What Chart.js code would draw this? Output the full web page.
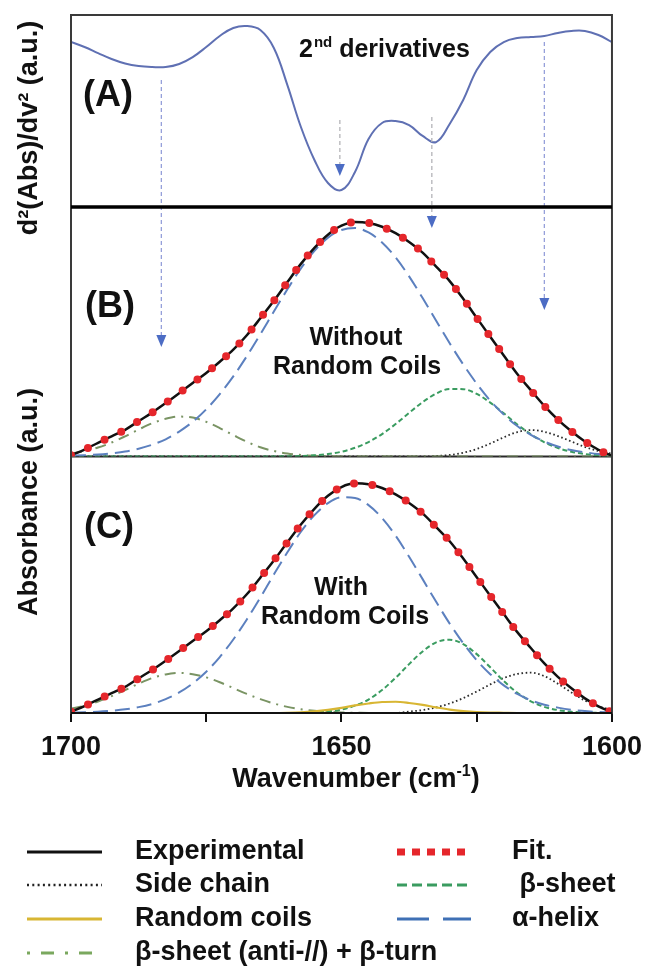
<!DOCTYPE html>
<html>
<head>
<meta charset="utf-8">
<title>Amide I deconvolution</title>
<script src="https://cdn.jsdelivr.net/npm/chart.js@4.4.1/dist/chart.umd.min.js"></script>
<style>
  html, body { margin: 0; padding: 0; background: #ffffff; }
  #wrap { position: relative; width: 651px; height: 968px; }
  canvas { display: block; }
</style>
</head>
<body>
<div id="wrap"><canvas id="ftir" width="651" height="968"></canvas></div>
<script>
// Amide I region, sampled every 2.5 cm-1 (axis runs 1700 -> 1600)
const wavenumbers = [1700, 1697.5, 1695, 1692.5, 1690, 1687.5, 1685, 1682.5, 1680, 1677.5,
  1675, 1672.5, 1670, 1667.5, 1665, 1662.5, 1660, 1657.5, 1655, 1652.5,
  1650, 1647.5, 1645, 1642.5, 1640, 1637.5, 1635, 1632.5, 1630, 1627.5,
  1625, 1622.5, 1620, 1617.5, 1615, 1612.5, 1610, 1607.5, 1605, 1602.5, 1600];

const xTickLabels = ['1700', '1650', '1600'];

// (A) second derivative of the absorbance (a.u.)
const secondDerivative = [0.031, 0.000, -0.038, -0.075, -0.103, -0.119, -0.125, -0.125, -0.106, -0.063,
  0.000, 0.069, 0.119, 0.131, 0.106, -0.006, -0.238, -0.500, -0.706, -0.850,
  -0.894, -0.781, -0.575, -0.475, -0.463, -0.488, -0.556, -0.594, -0.481, -0.331,
  -0.144, -0.031, 0.031, 0.056, 0.063, 0.069, 0.088, 0.100, 0.100, 0.075, 0.031];

// measured absorbance (a.u.), same spectrum in (B) and (C)
const experimental = [0.005, 0.028, 0.055, 0.081, 0.107, 0.142, 0.176, 0.214, 0.254, 0.295,
  0.335, 0.380, 0.428, 0.486, 0.554, 0.624, 0.699, 0.772, 0.836, 0.889,
  0.925, 0.940, 0.936, 0.921, 0.895, 0.860, 0.817, 0.761, 0.703, 0.632,
  0.556, 0.480, 0.405, 0.331, 0.266, 0.203, 0.148, 0.101, 0.060, 0.027, 0.003];

// (B) fit without a random-coil band
const fitWithoutCoils = [0.005, 0.028, 0.055, 0.081, 0.107, 0.142, 0.176, 0.214, 0.254, 0.295,
  0.335, 0.380, 0.428, 0.486, 0.554, 0.624, 0.699, 0.772, 0.836, 0.889,
  0.925, 0.940, 0.936, 0.921, 0.895, 0.860, 0.817, 0.761, 0.703, 0.632,
  0.556, 0.480, 0.405, 0.331, 0.266, 0.203, 0.148, 0.101, 0.060, 0.027, 0.003];
const helixWithoutCoils = [0.003, 0.005, 0.008, 0.013, 0.020, 0.031, 0.047, 0.069, 0.100, 0.139,
  0.189, 0.250, 0.321, 0.402, 0.490, 0.581, 0.670, 0.754, 0.824, 0.877,
  0.908, 0.916, 0.898, 0.858, 0.798, 0.722, 0.635, 0.544, 0.454, 0.369,
  0.292, 0.224, 0.168, 0.122, 0.087, 0.060, 0.040, 0.026, 0.017, 0.010, 0.006];
const antiTurnWithoutCoils = [0.012, 0.022, 0.036, 0.056, 0.081, 0.108, 0.133, 0.151, 0.160, 0.156,
  0.139, 0.114, 0.086, 0.059, 0.037, 0.022, 0.012, 0.006, 0.003, 0.001,
  0, 0, 0, 0, 0, 0, 0, 0, 0, 0,
  0, 0, 0, 0, 0, 0, 0, 0, 0, 0, 0];
const sheetWithoutCoils = [0, 0, 0, 0, 0, 0, 0, 0, 0, 0,
  0, 0, 0, 0, 0, 0, 0.001, 0.002, 0.005, 0.010,
  0.019, 0.035, 0.058, 0.090, 0.130, 0.175, 0.218, 0.252, 0.271, 0.270,
  0.251, 0.216, 0.173, 0.128, 0.089, 0.057, 0.034, 0.019, 0.010, 0.005, 0.002];
const sideChainWithoutCoils = [0, 0, 0, 0, 0, 0, 0, 0, 0, 0,
  0, 0, 0, 0, 0, 0, 0, 0, 0, 0,
  0, 0, 0, 0, 0, 0, 0, 0.002, 0.006, 0.015,
  0.030, 0.052, 0.077, 0.098, 0.106, 0.099, 0.082, 0.060, 0.038, 0.022, 0.011];

// (C) fit including a random-coil band
const fitWithCoils = [0.005, 0.028, 0.055, 0.081, 0.107, 0.142, 0.176, 0.214, 0.254, 0.295,
  0.335, 0.380, 0.428, 0.486, 0.554, 0.624, 0.699, 0.772, 0.836, 0.889,
  0.925, 0.940, 0.936, 0.921, 0.895, 0.860, 0.817, 0.761, 0.703, 0.632,
  0.556, 0.480, 0.405, 0.331, 0.266, 0.203, 0.148, 0.101, 0.060, 0.027, 0.003];
const helixWithCoils = [0.002, 0.003, 0.005, 0.009, 0.015, 0.024, 0.037, 0.057, 0.084, 0.121,
  0.169, 0.229, 0.301, 0.383, 0.473, 0.567, 0.658, 0.742, 0.810, 0.859,
  0.883, 0.880, 0.851, 0.798, 0.726, 0.640, 0.548, 0.455, 0.366, 0.286,
  0.216, 0.159, 0.113, 0.078, 0.052, 0.034, 0.022, 0.013, 0.008, 0.004, 0.002];
const antiTurnWithCoils = [0.018, 0.030, 0.047, 0.069, 0.094, 0.120, 0.143, 0.158, 0.164, 0.159,
  0.146, 0.126, 0.102, 0.078, 0.057, 0.039, 0.025, 0.015, 0.009, 0.005,
  0.002, 0.001, 0, 0, 0, 0, 0, 0, 0, 0,
  0, 0, 0, 0, 0, 0, 0, 0, 0, 0, 0];
const sheetWithCoils = [0, 0, 0, 0, 0, 0, 0, 0, 0, 0,
  0, 0, 0, 0, 0, 0, 0, 0, 0.003, 0.006,
  0.014, 0.030, 0.055, 0.094, 0.144, 0.200, 0.252, 0.289, 0.300, 0.282,
  0.241, 0.187, 0.131, 0.083, 0.048, 0.025, 0.012, 0.005, 0.002, 0.001, 0];
const sideChainWithCoils = [0, 0, 0, 0, 0, 0, 0, 0, 0, 0,
  0, 0, 0, 0, 0, 0, 0, 0, 0, 0,
  0, 0, 0, 0, 0, 0.006, 0.012, 0.023, 0.039, 0.061,
  0.088, 0.117, 0.143, 0.160, 0.165, 0.151, 0.120, 0.084, 0.051, 0.027, 0.013];
const randomCoils = [0, 0, 0, 0, 0, 0, 0, 0, 0, 0,
  0, 0, 0, 0, 0, 0, 0.001, 0.003, 0.007, 0.013,
  0.021, 0.031, 0.039, 0.045, 0.046, 0.041, 0.033, 0.023, 0.014, 0.008,
  0.004, 0.002, 0.001, 0, 0, 0, 0, 0, 0, 0, 0];

// guide arrows: from a minimum of the 2nd derivative down to the fitted band
const arrowWavenumbers = [1683.3, 1650.3, 1633.3, 1612.5];
const arrowStart = [-0.206, -0.456, -0.438, 0.031];   // on the (A) scale
const arrowEnd = [0.439, -0.806, 0.916, 0.587];
const arrowEndPanel = ['yB', 'yA', 'yB', 'yB'];

const seriesNames = {
  experimental: 'Experimental', fit: 'Fit.', side: 'Side chain', beta: '\u00A0\u03B2-sheet',
  coils: 'Random coils', helix: '\u03B1-helix', anti: '\u03B2-sheet (anti-//) + \u03B2-turn'
};

const FONT = '"Liberation Sans", Arial, Helvetica, sans-serif';
const font = (size, weight = 'bold') => `${weight} ${size}px ${FONT}`;

const styles = {
  deriv:        { borderColor: '#5f70b3', borderWidth: 2, tension: 0.4, cubicInterpolationMode: 'default' },
  experimental: { borderColor: '#111111', borderWidth: 2.5 },
  fit:          { borderColor: '#e5262b', borderWidth: 8, borderDash: [0, 18.5], borderCapStyle: 'round' },
  side:         { borderColor: '#2a2a2a', borderWidth: 1.8, borderDash: [1.6, 2.6] },
  beta:         { borderColor: '#3a9c60', borderWidth: 2, borderDash: [5, 3] },
  helix:        { borderColor: '#5c80bf', borderWidth: 2, borderDash: [15, 7] },
  anti:         { borderColor: '#7a9464', borderWidth: 2, borderDash: [11, 6, 2, 6] },
  coils:        { borderColor: '#d8b633', borderWidth: 2.2 }
};

const toPoints = vals => wavenumbers.map((w, i) => ({ x: w, y: vals[i] }));
function series(key, vals, axis, order) {
  return Object.assign({
    label: seriesNames[key] || key, data: toPoints(vals), yAxisID: axis, order,
    pointRadius: 0, pointHoverRadius: 0, fill: false, cubicInterpolationMode: 'monotone'
  }, styles[key]);
}

const datasets = [
  series('deriv', secondDerivative, 'yA', 1),
  // (B)
  series('fit', fitWithoutCoils, 'yB', 0),
  series('experimental', experimental, 'yB', 1),
  series('helix', helixWithoutCoils, 'yB', 3),
  series('anti', antiTurnWithoutCoils, 'yB', 4),
  series('beta', sheetWithoutCoils, 'yB', 3),
  series('side', sideChainWithoutCoils, 'yB', 4),
  // (C)
  series('fit', fitWithCoils, 'yC', 0),
  series('experimental', experimental, 'yC', 1),
  series('coils', randomCoils, 'yC', 2),
  series('helix', helixWithCoils, 'yC', 3),
  series('anti', antiTurnWithCoils, 'yC', 4),
  series('beta', sheetWithCoils, 'yC', 3),
  series('side', sideChainWithCoils, 'yC', 4)
];

const panelAxis = (weight, order, min, max) => ({
  type: 'linear', position: 'left', stack: 'panels', stackWeight: weight, weight: order,
  min, max, offset: false,
  ticks: { display: false }, grid: { display: false, drawTicks: false }, border: { display: false }
});

const arrowLineColors = ['#96a0da', '#b4b4b8', '#b4b4b8', '#96a0da'];

// frame, panel dividers, guide arrows and all annotation text
const decor = {
  id: 'decor',
  beforeDatasetsDraw(chart) {
    const { ctx, chartArea: a, scales } = chart;
    ctx.save();
    ctx.strokeStyle = '#2a2a2a';
    ctx.lineWidth = 2;
    ctx.beginPath();
    ctx.moveTo(a.left, scales.yB.bottom);
    ctx.lineTo(a.right, scales.yB.bottom);
    ctx.stroke();
    ctx.restore();
  },
  afterDatasetsDraw(chart) {
    const { ctx, chartArea: a, scales } = chart;
    ctx.save();
    // guide arrows
    arrowWavenumbers.forEach((w, i) => {
      const x = scales.x.getPixelForValue(w);
      const y0 = scales.yA.getPixelForValue(arrowStart[i]);
      const y1 = scales[arrowEndPanel[i]].getPixelForValue(arrowEnd[i]);
      ctx.setLineDash([4, 3]);
      ctx.strokeStyle = arrowLineColors[i];
      ctx.lineWidth = 1.3;
      ctx.beginPath();
      ctx.moveTo(x, y0);
      ctx.lineTo(x, y1 - 10);
      ctx.stroke();
      ctx.setLineDash([]);
      ctx.fillStyle = '#4c6cc4';
      ctx.beginPath();
      ctx.moveTo(x - 5, y1 - 12);
      ctx.lineTo(x + 5, y1 - 12);
      ctx.lineTo(x, y1);
      ctx.closePath();
      ctx.fill();
    });
    // outer frame
    ctx.strokeStyle = '#3a3a3a';
    ctx.lineWidth = 2;
    ctx.strokeRect(a.left, a.top, a.right - a.left, a.bottom - a.top);
    ctx.strokeStyle = '#111111';
    ctx.beginPath();
    ctx.moveTo(a.left, a.bottom);
    ctx.lineTo(a.right, a.bottom);
    ctx.stroke();
    // thick divider under (A)
    ctx.lineWidth = 3.5;
    ctx.strokeStyle = '#000000';
    ctx.beginPath();
    ctx.moveTo(a.left, scales.yA.bottom);
    ctx.lineTo(a.right, scales.yA.bottom);
    ctx.stroke();

    // panel labels and notes
    ctx.fillStyle = '#111111';
    ctx.textBaseline = 'middle';
    ctx.textAlign = 'center';
    ctx.font = font(36);
    ctx.fillText('(A)', 108, 96);
    ctx.fillText('(B)', 110, 307);
    ctx.fillText('(C)', 109, 528);

    ctx.font = font(25);
    ctx.fillText('Without', 356, 338);
    ctx.fillText('Random Coils', 357, 367);
    ctx.fillText('With', 341, 588);
    ctx.fillText('Random Coils', 345, 617);

    // "2nd derivatives"
    ctx.textAlign = 'left';
    ctx.textBaseline = 'alphabetic';
    let x = 299;
    const base = 57;
    ctx.font = font(25);
    ctx.fillText('2', x, base);
    x += ctx.measureText('2').width + 1;
    ctx.font = font(15);
    ctx.fillText('nd', x, base - 10);
    x += ctx.measureText('nd').width;
    ctx.font = font(25);
    ctx.fillText(' derivatives', x, base);
    ctx.restore();
  },
  afterDraw(chart) {
    const { ctx } = chart;
    ctx.save();
    ctx.fillStyle = '#111111';

    // y-axis titles
    const vText = (txt, cx, cy) => {
      ctx.save();
      ctx.translate(cx, cy);
      ctx.rotate(-Math.PI / 2);
      ctx.textAlign = 'center';
      ctx.textBaseline = 'middle';
      ctx.font = font(27);
      ctx.fillText(txt, 0, 0);
      ctx.restore();
    };
    vText('d\u00B2(Abs)/dv\u00B2 (a.u.)', 30, 128);
    vText('Absorbance (a.u.)', 30, 502);

    // x-axis title with superscript
    ctx.textBaseline = 'alphabetic';
    ctx.textAlign = 'left';
    const main = 'Wavenumber (cm', sup = '-1', close = ')';
    ctx.font = font(27);
    const wMain = ctx.measureText(main).width, wClose = ctx.measureText(close).width;
    ctx.font = font(16);
    const wSup = ctx.measureText(sup).width;
    let tx = 356 - (wMain + wSup + wClose) / 2;
    const tb = 787;
    ctx.font = font(27);
    ctx.fillText(main, tx, tb);
    tx += wMain;
    ctx.font = font(16);
    ctx.fillText(sup, tx, tb - 11);
    tx += wSup;
    ctx.font = font(27);
    ctx.fillText(close, tx, tb);

    // legend
    const legend = [
      { key: 'experimental', col: 0, row: 0 }, { key: 'fit', col: 1, row: 0 },
      { key: 'side', col: 0, row: 1 }, { key: 'beta', col: 1, row: 1 },
      { key: 'coils', col: 0, row: 2 }, { key: 'helix', col: 1, row: 2 },
      { key: 'anti', col: 0, row: 3 }
    ];
    const sample = {
      experimental: { color: '#111111', width: 3, dash: [] },
      fit: { color: '#e5262b', width: 7, dash: [8, 7] },
      side: { color: '#222222', width: 2.5, dash: [2, 3.3] },
      beta: { color: '#3a9c60', width: 3, dash: [10, 5] },
      coils: { color: '#d8b633', width: 3, dash: [] },
      helix: { color: '#3f70b5', width: 3, dash: [32, 14] },
      anti: { color: '#7aa85e', width: 3, dash: [3, 11, 13, 11] }
    };
    const colX = [[27, 102, 135], [397, 471, 512]];
    const rowY = [852, 885, 919, 953];
    legend.forEach(item => {
      const [x0, x1, tx0] = colX[item.col];
      const y = rowY[item.row];
      const s = sample[item.key];
      ctx.save();
      ctx.strokeStyle = s.color;
      ctx.lineWidth = s.width;
      ctx.lineCap = 'butt';
      ctx.setLineDash(s.dash);
      ctx.beginPath();
      ctx.moveTo(x0, y);
      ctx.lineTo(x1, y);
      ctx.stroke();
      ctx.restore();
      ctx.font = font(27);
      ctx.textBaseline = 'middle';
      ctx.textAlign = 'left';
      ctx.fillText(seriesNames[item.key], tx0, y);
    });
    ctx.restore();
  }
};

new Chart(document.getElementById('ftir'), {
  type: 'line',
  data: { datasets },
  options: {
    responsive: false,
    animation: false,
    devicePixelRatio: 1,
    events: [],
    layout: { padding: { left: 71, right: 36, top: 15, bottom: 195 } },
    plugins: { legend: { display: false }, tooltip: { enabled: false } },
    scales: {
      x: {
        type: 'linear', reverse: true, min: 1600, max: 1700, position: 'bottom',
        afterFit: s => { s.height = 60; },
        ticks: {
          stepSize: 25, autoSkip: false, maxRotation: 0, minRotation: 0, padding: 9,
          color: '#111111', font: { family: FONT, size: 27, weight: 'bold' },
          callback: v => (xTickLabels.includes(String(v)) ? String(v) : '')
        },
        grid: { drawOnChartArea: false, drawTicks: true, tickLength: 9, color: '#111111', lineWidth: 2 },
        border: { display: false }
      },
      yC: panelAxis(256.5, 1, 0, 1.05),
      yB: panelAxis(249.5, 2, 0, 1),
      yA: panelAxis(192, 3, -1, 0.2)
    }
  },
  plugins: [decor]
});
</script>
</body>
</html>
